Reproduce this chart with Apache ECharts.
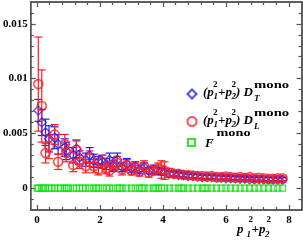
<!DOCTYPE html>
<html><head><meta charset="utf-8">
<script src="https://cdn.jsdelivr.net/npm/echarts@6/dist/echarts.min.js"></script>
<style>html,body{margin:0;padding:0;background:#fff}#c{width:303px;height:240px}</style>
</head><body><div id="c"></div>
<script>
// momentum values p1^2+p2^2 (D_T, D_L series)
const xs = [0.04,0.15,0.27,0.38,0.56,0.67,0.88,0.93,1.15,1.25,
            1.35,1.55,1.67,1.80,1.95,2.07,2.20,2.30,2.42,2.55,
            2.70,2.85,3.00,3.12,3.25,3.40,3.55,3.70,3.85,3.95,
            4.05,4.20,4.35,4.50,4.65,4.80,4.95,5.10,5.25,5.40,
            5.55,5.70,5.85,6.00,6.15,6.30,6.45,6.60,6.75,6.90,
            7.05,7.20,7.35,7.50,7.65,7.80];
// (p1^2+p2^2) D_T^mono
const dtY = [0.0071,0.0060,0.0051,0.0045,0.0046,0.0040,0.0037,0.0034,0.0030,0.0036,
             0.0028,0.0026,0.0030,0.0025,0.0024,0.0024,0.0022,0.0026,0.0020,0.0026,
             0.0019,0.0022,0.0018,0.0020,0.0017,0.0019,0.0016,0.0017,0.0016,0.0015,
             0.0015,0.0013,0.0013,0.0012,0.0012,0.0011,0.0011,0.00105,0.0010,0.0010,
             0.0010,0.00095,0.00095,0.0009,0.0009,0.0009,0.00085,0.00085,0.0008,0.0008,
             0.0008,0.0008,0.00078,0.00078,0.00076,0.00076];
const dtErr = [0.0010,0.0012,0.0012,0.0012,0.0010,0.0009,0.0008,0.0008,0.0007,0.0008,
               0.0006,0.0006,0.0007,0.0006,0.0005,0.0006,0.0005,0.0006,0.0005,0.0006,
               0.0004,0.0005,0.0004,0.0004,0.0004,0.0004,0.0003,0.0004,0.0003,0.0003,
               0.0003,0.0003,0.0002,0.0002,0.0002,0.0002,0.0002,0.0002,0.0002,0.0002,
               0.0002,0.0002,0.0002,0.0002,0.0002,0.0002,0.0002,0.0002,0.0002,0.0002,
               0.0002,0.0002,0.0002,0.0002,0.0002,0.0002];
// (p1^2+p2^2) D_L^mono
const dlY = [0.0095,0.0075,0.0032,0.0038,0.0049,0.0024,0.0040,0.0032,0.0021,0.0035,
             0.0024,0.0020,0.0027,0.0020,0.0017,0.0024,0.0018,0.0016,0.0022,0.0023,
             0.0017,0.0021,0.0016,0.0019,0.0015,0.0020,0.0014,0.0016,0.0018,0.0017,
             0.0016,0.0014,0.0013,0.0013,0.0012,0.0012,0.00115,0.0011,0.0011,0.00105,
             0.0011,0.0010,0.0010,0.00105,0.0010,0.00095,0.0010,0.00095,0.0010,0.0009,
             0.00095,0.0009,0.00085,0.00085,0.0009,0.0009];
const dlErr = [0.0043,0.0033,0.0009,0.0011,0.0009,0.0007,0.0009,0.0008,0.0006,0.0008,
               0.0006,0.0006,0.0007,0.0006,0.0005,0.0006,0.0005,0.0005,0.0006,0.0006,
               0.0005,0.0005,0.0004,0.0005,0.0004,0.0005,0.0004,0.0004,0.0005,0.0008,
               0.0008,0.0004,0.0003,0.0003,0.0003,0.0003,0.0002,0.0002,0.0002,0.0002,
               0.0002,0.0002,0.0002,0.0002,0.0002,0.0002,0.0002,0.0002,0.0002,0.0002,
               0.0002,0.0002,0.0002,0.0002,0.0002,0.0002];
// F^mono
const fX = [0.00,0.04,0.15,0.20,0.27,0.38,0.45,0.56,0.67,0.75,
            0.88,0.93,1.00,1.15,1.25,1.35,1.45,1.55,1.67,1.80,
            1.88,1.95,2.07,2.20,2.30,2.42,2.55,2.62,2.70,2.85,
            3.00,3.12,3.25,3.33,3.40,3.55,3.70,3.78,3.85,3.95,
            4.05,4.20,4.35,4.50,4.58,4.65,4.80,4.95,5.10,5.25,
            5.33,5.40,5.55,5.70,5.85,6.00,6.15,6.30,6.45,6.60,
            6.75,6.90,7.05,7.20,7.35,7.50,7.65,7.80];
const fY = [0,0,0,0,0,0,0,0,0,0,
            0,0,0,0,0,0,0,0,0,0,
            0,0,0,0,0,0,0,0,0,0,
            0,0,0,0,0,0,0,0,0,0,
            0,0,0,0,0,0,0,0,0,0,
            0,0,0,0,0,0,0,0,0,0,
            0,0,0,0,0,0,0,0];
// ticks
const xMajor = [0,2,4,6,8];
const xMinor = [0.4,0.8,1.2,1.6,2.4,2.8,3.2,3.6,4.4,4.8,5.2,5.6,6.4,6.8,7.2,7.6];
const yMajor = [0,0.005,0.01,0.015];
const yMinor = [-0.001,0.001,0.002,0.003,0.004,0.006,0.007,0.008,0.009,0.011,0.012,0.013,0.014,0.016];

const BLUE = '#1f1fff', RED = '#ff1f1f', GREEN = '#00e000', AX = '#555';
const FONT = '"Liberation Serif","Times New Roman",serif';

const chart = echarts.init(document.getElementById('c'), null, {renderer: 'canvas'});

function xAx(pos, ticks, len, labels) {
  return {
    type: 'value', min: -0.2, max: 8.4, position: pos,
    axisLine: {show: true, onZero: false, lineStyle: {color: AX, width: 1.5}},
    axisTick: {show: true, inside: true, length: len, customValues: ticks, lineStyle: {color: AX, width: 1.2}},
    axisLabel: labels ? {show: true, customValues: ticks, formatter: v => String(v), fontFamily: FONT,
      fontWeight: 'bold', fontSize: 11, color: '#000', margin: 5} : {show: false},
    splitLine: {show: false}
  };
}
function yAx(pos, ticks, len, labels) {
  return {
    type: 'value', min: -0.002, max: 0.017, position: pos,
    axisLine: {show: true, onZero: false, lineStyle: {color: AX, width: 1.5}},
    axisTick: {show: true, inside: true, length: len, customValues: ticks, lineStyle: {color: AX, width: 1.2}},
    axisLabel: labels ? {show: true, customValues: ticks, formatter: v => String(v), fontFamily: FONT,
      fontWeight: 'bold', fontSize: 11, color: '#000', margin: 3} : {show: false},
    splitLine: {show: false}
  };
}

function errSeries(yv, ev, color, name) {
  return {
    type: 'custom', name: name + '_err', silent: true,
    data: xs.map((x, i) => [x, yv[i] - ev[i], yv[i] + ev[i]]),
    encode: {x: 0, y: [1, 2]},
    renderItem: function (params, api) {
      const x = api.value(0);
      const lo = api.coord([x, api.value(1)]);
      const hi = api.coord([x, api.value(2)]);
      const c = 4;
      const st = {stroke: color, lineWidth: 1.2, fill: null};
      return {type: 'group', children: [
        {type: 'line', shape: {x1: lo[0], y1: lo[1], x2: hi[0], y2: hi[1]}, style: st},
        {type: 'line', shape: {x1: lo[0] - c, y1: lo[1], x2: lo[0] + c, y2: lo[1]}, style: st},
        {type: 'line', shape: {x1: hi[0] - c, y1: hi[1], x2: hi[0] + c, y2: hi[1]}, style: st}
      ]};
    }
  };
}

function t(text, x, y, size, opts) {
  opts = opts || {};
  const font = (opts.italic === false ? '' : 'italic ') + 'bold ' + size + 'px ' + FONT;
  return {type: 'text', x: x, y: y, scaleX: opts.sx || 1, silent: true,
    style: {text: text, font: font, fill: '#000', align: 'left', verticalAlign: 'middle'}};
}

const legendText = [];
function legendLine(y0, sub) {
  legendText.push(
    t('(p', 203, y0, 13), t('2', 213, y0 - 8, 9, {italic: false}), t('1', 213.5, y0 + 4, 9),
    t('+p', 218, y0, 13), t('2', 231.5, y0 - 8, 9, {italic: false}), t('2', 231.5, y0 + 4, 9),
    t(') D', 236, y0, 13), t('mono', 254, y0 - 7, 9.5, {italic: false, sx: 1.55}), t(sub, 254, y0 + 6, 9)
  );
}
legendLine(93, 'T');
legendLine(120.5, 'L');
legendText.push(t('F', 205, 144, 13), t('mono', 216.5, 134, 9.5, {italic: false, sx: 1.5}));
// x axis title
legendText.push(
  t('p', 237, 230, 13), t('2', 248.5, 220, 9, {italic: false}), t('1', 246.5, 235, 9),
  t('+p', 251.5, 230, 13), t('2', 266.5, 220, 9, {italic: false}), t('2', 265, 235, 9)
);

const legendBase = {orient: 'vertical', itemWidth: 9, itemHeight: 9, formatter: () => '', padding: 0,
  textStyle: {fontSize: 1}, selectedMode: false};

chart.setOption({
  animation: false,
  backgroundColor: '#fff',
  grid: {left: 27.5, right: 1.5, top: 2, bottom: 30, containLabel: false},
  xAxis: [xAx('bottom', xMajor, 5, true), xAx('bottom', xMinor, 3, false),
          xAx('top', xMajor, 5, false), xAx('top', xMinor, 3, false)],
  yAxis: [yAx('left', yMajor, 5, true), yAx('left', yMinor, 3, false),
          yAx('right', yMajor, 5, false), yAx('right', yMinor, 3, false)],
  legend: [
    Object.assign({}, legendBase, {data: ['DT'], left: 186.5, top: 88.5}),
    Object.assign({}, legendBase, {data: ['DL'], left: 186.5, top: 116}),
    Object.assign({}, legendBase, {data: ['F'], left: 187, top: 138, itemWidth: 7, itemHeight: 7})
  ],
  graphic: legendText,
  series: [
    errSeries(dtY, dtErr, BLUE, 'DT'),
    {type: 'scatter', name: 'DT', data: xs.map((x, i) => [x, dtY[i]]), symbol: 'diamond', symbolSize: 9,
      itemStyle: {color: 'rgba(0,0,0,0)', borderColor: BLUE, borderWidth: 1.3}},
    errSeries(dlY, dlErr, RED, 'DL'),
    {type: 'scatter', name: 'DL', data: xs.map((x, i) => [x, dlY[i]]), symbol: 'circle', symbolSize: 9,
      itemStyle: {color: 'rgba(0,0,0,0)', borderColor: RED, borderWidth: 1.6}},
    {type: 'scatter', name: 'F', data: fX.map((x, i) => [x, fY[i]]), symbol: 'rect', symbolSize: 6,
      itemStyle: {color: 'rgba(0,0,0,0)', borderColor: GREEN, borderWidth: 1.1}}
  ]
});
</script>
</body></html>
